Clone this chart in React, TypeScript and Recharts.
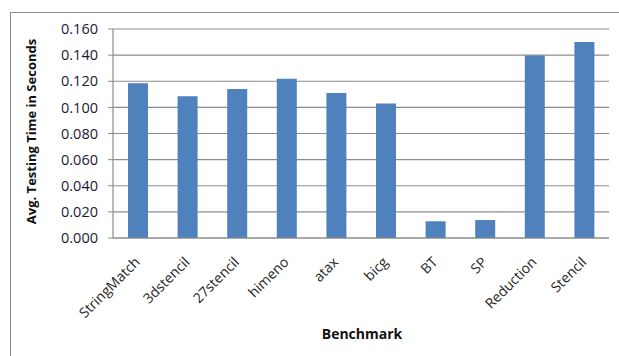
import React from "react";
import { BarChart, Bar, XAxis, YAxis, CartesianGrid } from "recharts";

const benchmarks = ["StringMatch", "3dstencil", "27stencil", "himeno", "atax", "bicg", "BT", "SP", "Reduction", "Stencil"];
const avgTimes = [0.1185, 0.1085, 0.114, 0.122, 0.111, 0.103, 0.0128, 0.0138, 0.1397, 0.150];
const yTicks = [0, 0.02, 0.04, 0.06, 0.08, 0.1, 0.12, 0.14, 0.16];

const data = benchmarks.map((name, i) => ({ name, value: avgTimes[i] }));

const FONT = "'Open Sans', 'Liberation Sans', sans-serif";

const XTick = (props: any) => {
  const { x, y, payload } = props;
  return (
    <g transform={`translate(${x + 3},${y + 17})`}>
      <text
        x={0}
        y={0}
        textAnchor="end"
        transform="rotate(-45)"
        fontFamily={FONT}
        fontSize={14}
        fill="#262626"
      >
        {payload.value}
      </text>
    </g>
  );
};

const YTitle = (props: any) => {
  const vb = props.viewBox || {};
  const cx = 31;
  const cy = vb.y + vb.height / 2 - 2;
  return (
    <text
      x={cx}
      y={cy}
      transform={`rotate(-90, ${cx}, ${cy})`}
      textAnchor="middle"
      dominantBaseline="central"
      fontFamily={FONT}
      fontWeight="bold"
      fontSize={13}
      fill="#111"
    >
      Avg. Testing Time in Seconds
    </text>
  );
};

const XTitle = (props: any) => {
  const vb = props.viewBox || {};
  const cx = vb.x + vb.width / 2 + 1;
  return (
    <text
      x={cx}
      y={333}
      textAnchor="middle"
      dominantBaseline="central"
      fontFamily={FONT}
      fontWeight="bold"
      fontSize={14}
      fill="#111"
    >
      Benchmark
    </text>
  );
};

export default function App() {
  return (
    <div style={{ position: "absolute", left: 0, top: 0, width: 619, height: 356, background: "#fff", overflow: "hidden" }}>
      <div
        style={{
          position: "absolute",
          left: 10,
          top: 12,
          width: 700,
          height: 400,
          borderLeft: "1px solid #8c8c8c",
          borderTop: "1px solid #8c8c8c",
        }}
      />
      <div style={{ position: "absolute", left: 0, top: 0 }}>
        <BarChart width={619} height={356} data={data} margin={{ top: 29, right: 10, bottom: 0, left: 0 }}>
          <CartesianGrid horizontal vertical={false} stroke="#8c8c8c" strokeWidth={1.2} />
          <XAxis
            dataKey="name"
            height={118}
            tickLine={false}
            axisLine={{ stroke: "#8c8c8c", strokeWidth: 1.2 }}
            tick={<XTick />}
            interval={0}
            label={<XTitle />}
          />
          <YAxis
            width={113}
            domain={[0, 0.16]}
            ticks={yTicks}
            tickFormatter={(v: number) => v.toFixed(3)}
            tickSize={5}
            tickMargin={10}
            tickLine={{ stroke: "#8c8c8c" }}
            axisLine={{ stroke: "#8c8c8c", strokeWidth: 1.2 }}
            tick={{ fontFamily: FONT, fontSize: 14.5, fill: "#1a1a33" }}
            label={<YTitle />}
          />
          <Bar dataKey="value" fill="#4F81BD" barSize={20} isAnimationActive={false} />
        </BarChart>
      </div>
    </div>
  );
}
